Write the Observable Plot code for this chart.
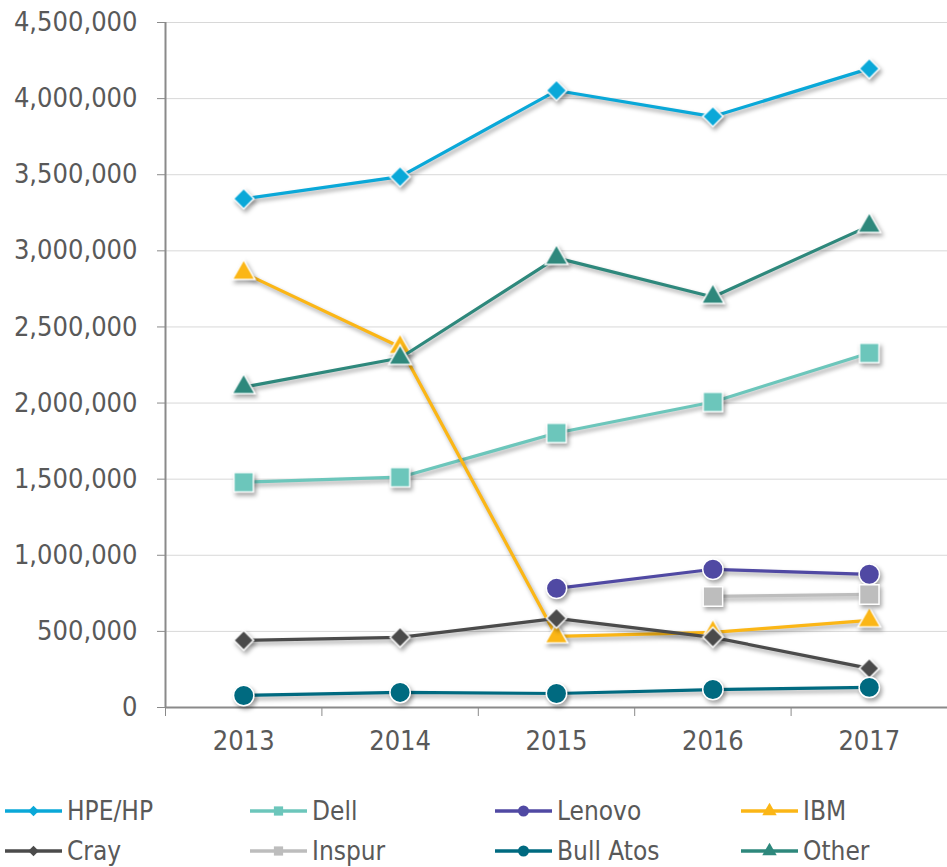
<!DOCTYPE html>
<html>
<head>
<meta charset="utf-8">
<script src="https://cdn.jsdelivr.net/npm/d3@7"></script>
<script src="https://cdn.jsdelivr.net/npm/@observablehq/plot@0.6"></script>
<style>
  html, body { margin: 0; padding: 0; background: #fff; }
  #wrap { position: relative; width: 947px; height: 867px; overflow: hidden;
          font-family: "DejaVu Sans Condensed", "DejaVu Sans", sans-serif; font-stretch: condensed; }
  #chart svg g[aria-label="line"], #chart svg g[aria-label="dot"] {
    filter: drop-shadow(2px 3px 2px rgba(0,0,0,0.35));
  }
  .leg { position: absolute; display: flex; align-items: center; height: 30px;
         font-size: 26px; color: #595959; white-space: nowrap; }
  .leg svg { margin-right: 4px; }
</style>
</head>
<body>
<div id="wrap">
  <div id="chart"></div>
  <div id="legend"></div>
</div>
<script>
const years = [2013, 2014, 2015, 2016, 2017];
const seriesNames = ["HPE/HP", "Dell", "Lenovo", "IBM", "Cray", "Inspur", "Bull Atos", "Other"];
const hpe    = [3342000, 3487000, 4053000, 3882000, 4197000];
const dell   = [1480000, 1513000, 1803000, 2007000, 2329000];
const lenovo = [null, null, 783000, 908000, 875000];
const ibm    = [2855000, 2368000, 467000, 493000, 572000];
const cray   = [441000, 461000, 586000, 461000, 257000];
const inspur = [null, null, null, 730000, 743000];
const bull   = [79000, 99000, 92000, 118000, 132000];
const other  = [2105000, 2296000, 2954000, 2697000, 3164000];
const yTicks = [0, 500000, 1000000, 1500000, 2000000, 2500000, 3000000, 3500000, 4000000, 4500000];

const seriesValues = [hpe, dell, lenovo, ibm, cray, inspur, bull, other];
const colors = ["#0aa8d8", "#6cc6bb", "#5049a3", "#fbb616", "#4b4b4b", "#bdbdbd", "#006a80", "#2e887c"];
const symbols = [d3.symbolDiamond2, d3.symbolSquare, d3.symbolCircle, d3.symbolTriangle,
                 d3.symbolDiamond2, d3.symbolSquare, d3.symbolCircle, d3.symbolTriangle];
const radii = [9.2, 11, 10.2, 8.5, 9, 11, 10.2, 8.5];

const FONT = '"DejaVu Sans Condensed", "DejaVu Sans", sans-serif';

const marks = [
  Plot.ruleY(yTicks.slice(1), {stroke: "#d8d8d8", strokeWidth: 1}),
  Plot.axisY({ticks: yTicks, tickFormat: d3.format(","), tickSize: 8, tickPadding: 20,
              stroke: "#8a8a8a", fill: "#595959", label: null, fontSize: 27}),
  Plot.axisX({ticks: [2012.5, 2013.5, 2014.5, 2015.5, 2016.5, 2017.5], tickSize: 9,
              tickFormat: () => "", stroke: "#8a8a8a", label: null}),
  Plot.axisX({ticks: years, tickSize: 0, tickPadding: 23, tickFormat: d => String(d),
              fill: "#595959", label: null, fontSize: 27}),
  Plot.ruleY([0], {stroke: "#8a8a8a", strokeWidth: 2}),
  Plot.ruleX([2012.5], {y1: 0, y2: 4500000, stroke: "#8a8a8a", strokeWidth: 2})
];

seriesNames.forEach((name, i) => {
  const data = years.map((yr, j) => ({year: yr, value: seriesValues[i][j]}))
                    .filter(d => d.value != null);
  marks.push(Plot.line(data, {x: "year", y: "value", stroke: colors[i], strokeWidth: 3.2}));
  marks.push(Plot.dot(data, {x: "year", y: "value", fill: colors[i], stroke: "#fff",
                             strokeWidth: 1.5, r: radii[i], symbol: symbols[i]}));
});

const chart = Plot.plot({
  width: 947,
  height: 770,
  marginLeft: 165,
  marginRight: 0,
  marginTop: 22,
  marginBottom: 63,
  style: {fontFamily: FONT, fontSize: "27px", color: "#595959", background: "#fff", overflow: "visible"},
  x: {domain: [2012.5, 2017.5]},
  y: {domain: [0, 4500000]},
  marks
});
document.getElementById("chart").appendChild(chart);

// Legend
const legend = document.getElementById("legend");
const colX = [5, 250, 495, 741];
const rowY = [796, 836];
seriesNames.forEach((name, i) => {
  const item = document.createElement("div");
  item.className = "leg";
  item.style.left = colX[i % 4] + "px";
  item.style.top = rowY[Math.floor(i / 4)] + "px";
  const s = symbols[i];
  const size = s === d3.symbolTriangle ? 90 : (s === d3.symbolCircle ? 95 : (s === d3.symbolSquare ? 85 : 70));
  const sym = d3.symbol(s, size)();
  item.innerHTML = `<svg width="58" height="30"><line x1="0" x2="57" y1="15" y2="15" stroke="${colors[i]}" stroke-width="3.5"/>` +
    `<path d="${sym}" transform="translate(28.5,15)" fill="${colors[i]}"/></svg>` +
    `<span>${name}</span>`;
  legend.appendChild(item);
});
</script>
</body>
</html>
